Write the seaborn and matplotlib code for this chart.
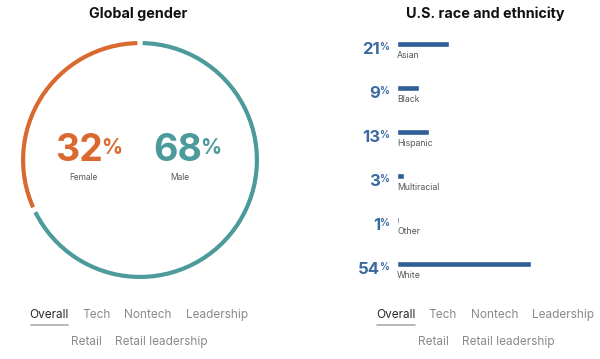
import matplotlib
matplotlib.use("Agg")
import matplotlib.pyplot as plt
import seaborn as sns
import pandas as pd

# data
gender_labels = ["Female", "Male"]
gender_values = [32, 68]

race_labels = ["Asian", "Black", "Hispanic", "Multiracial", "Other", "White"]
race_values = [21, 9, 13, 3, 1, 54]

tabs_row1 = ["Overall", "Tech", "Nontech", "Leadership"]
tabs_row2 = ["Retail", "Retail leadership"]

ORANGE = "#D9692F"
TEAL = "#4C9A9A"
BLUE = "#2F5E98"
BLUE_TXT = "#3B6AA0"
GRAY = "#8A8A8A"
DARK = "#2B2B2B"

sns.set_theme(style="white")
plt.rcParams["font.family"] = ["Inter", "DejaVu Sans"]

W, H = 600, 359
fig = plt.figure(figsize=(W / 100, H / 100), dpi=100)


def box(x0, y0, x1, y1):
    # pixel box (top-left origin) -> figure fraction rect
    return [x0 / W, 1 - y1 / H, (x1 - x0) / W, (y1 - y0) / H]


def ftext(x, y, s, **kw):
    fig.text(x / W, 1 - y / H, s, **kw)


# ---- left: gender ring
ax1 = fig.add_axes(box(21, 41, 259, 279))
wedges, _ = ax1.pie(gender_values, colors=[ORANGE, TEAL], startangle=90,
                    counterclock=True, wedgeprops=dict(width=0.035, linewidth=0))
# small gaps between segments
for w in wedges:
    w.set_theta1(w.theta1 + 1.3)
    w.set_theta2(w.theta2 - 1.3)
ax1.set_xlim(-1.0, 1.0)
ax1.set_ylim(-1.0, 1.0)
ax1.set_aspect("equal")

ftext(138, 14, "Global gender", ha="center", va="center", fontsize=10.3,
      fontweight="bold", color="#111111")

big_pos = [(103, ORANGE, 83), (202, TEAL, 180)]
for (xr, col, xl), lab, val in zip(big_pos, gender_labels, gender_values):
    ftext(xr, 151, str(val), ha="right", va="center", fontsize=27,
          fontweight="bold", color=col)
    ftext(xr - 2, 138, "%", ha="left", va="top", fontsize=15,
          fontweight="bold", color=col)
    ftext(xl, 177, lab, ha="center", va="center", fontsize=6, color="#555555")

# ---- right: race bars
ftext(485, 14, "U.S. race and ethnicity", ha="center", va="center", fontsize=10.3,
      fontweight="bold", color="#111111")

df = pd.DataFrame({"group": race_labels, "pct": race_values})
ax2 = fig.add_axes(box(397, 22, 590, 286))
sns.barplot(data=df, x="pct", y="group", orient="h", color=BLUE, width=0.12,
            saturation=1, ax=ax2)
px_per_pct = 2.48
ax2.set_xlim(0, 193 / px_per_pct)
ax2.set_ylim(5.5, -0.5)
ax2.axis("off")
for i, (lab, val) in enumerate(zip(race_labels, race_values)):
    ax2.annotate(lab, xy=(0, i), xytext=(0, -11), textcoords="offset pixels",
                 ha="left", va="center", fontsize=6.3, color="#555555")
    ax2.annotate(str(val), xy=(0, i), xytext=(-17, -5), textcoords="offset pixels",
                 ha="right", va="center", fontsize=12, fontweight="bold",
                 color=BLUE_TXT, annotation_clip=False)
    ax2.annotate("%", xy=(0, i), xytext=(-18, 2), textcoords="offset pixels",
                 ha="left", va="top", fontsize=7, fontweight="bold",
                 color=BLUE_TXT, annotation_clip=False)

# ---- tabs under each panel
tab_x = {
    "left": ([49, 97, 148, 217], [86, 161], (31, 68)),
    "right": ([396, 443, 495, 563], [433, 508], (377, 415)),
}
for side, (xs1, xs2, (u0, u1)) in tab_x.items():
    for x, t in zip(xs1, tabs_row1):
        ftext(x, 315, t, ha="center", va="center", fontsize=8.5,
              color=DARK if t == "Overall" else GRAY)
    for x, t in zip(xs2, tabs_row2):
        ftext(x, 342, t, ha="center", va="center", fontsize=8.5, color=GRAY)
    fig.add_artist(plt.Line2D([u0 / W, u1 / W], [1 - 325 / H, 1 - 325 / H],
                              color="#AAAAAA", linewidth=1.2))

fig.savefig("out.png", dpi=100, facecolor="white")
